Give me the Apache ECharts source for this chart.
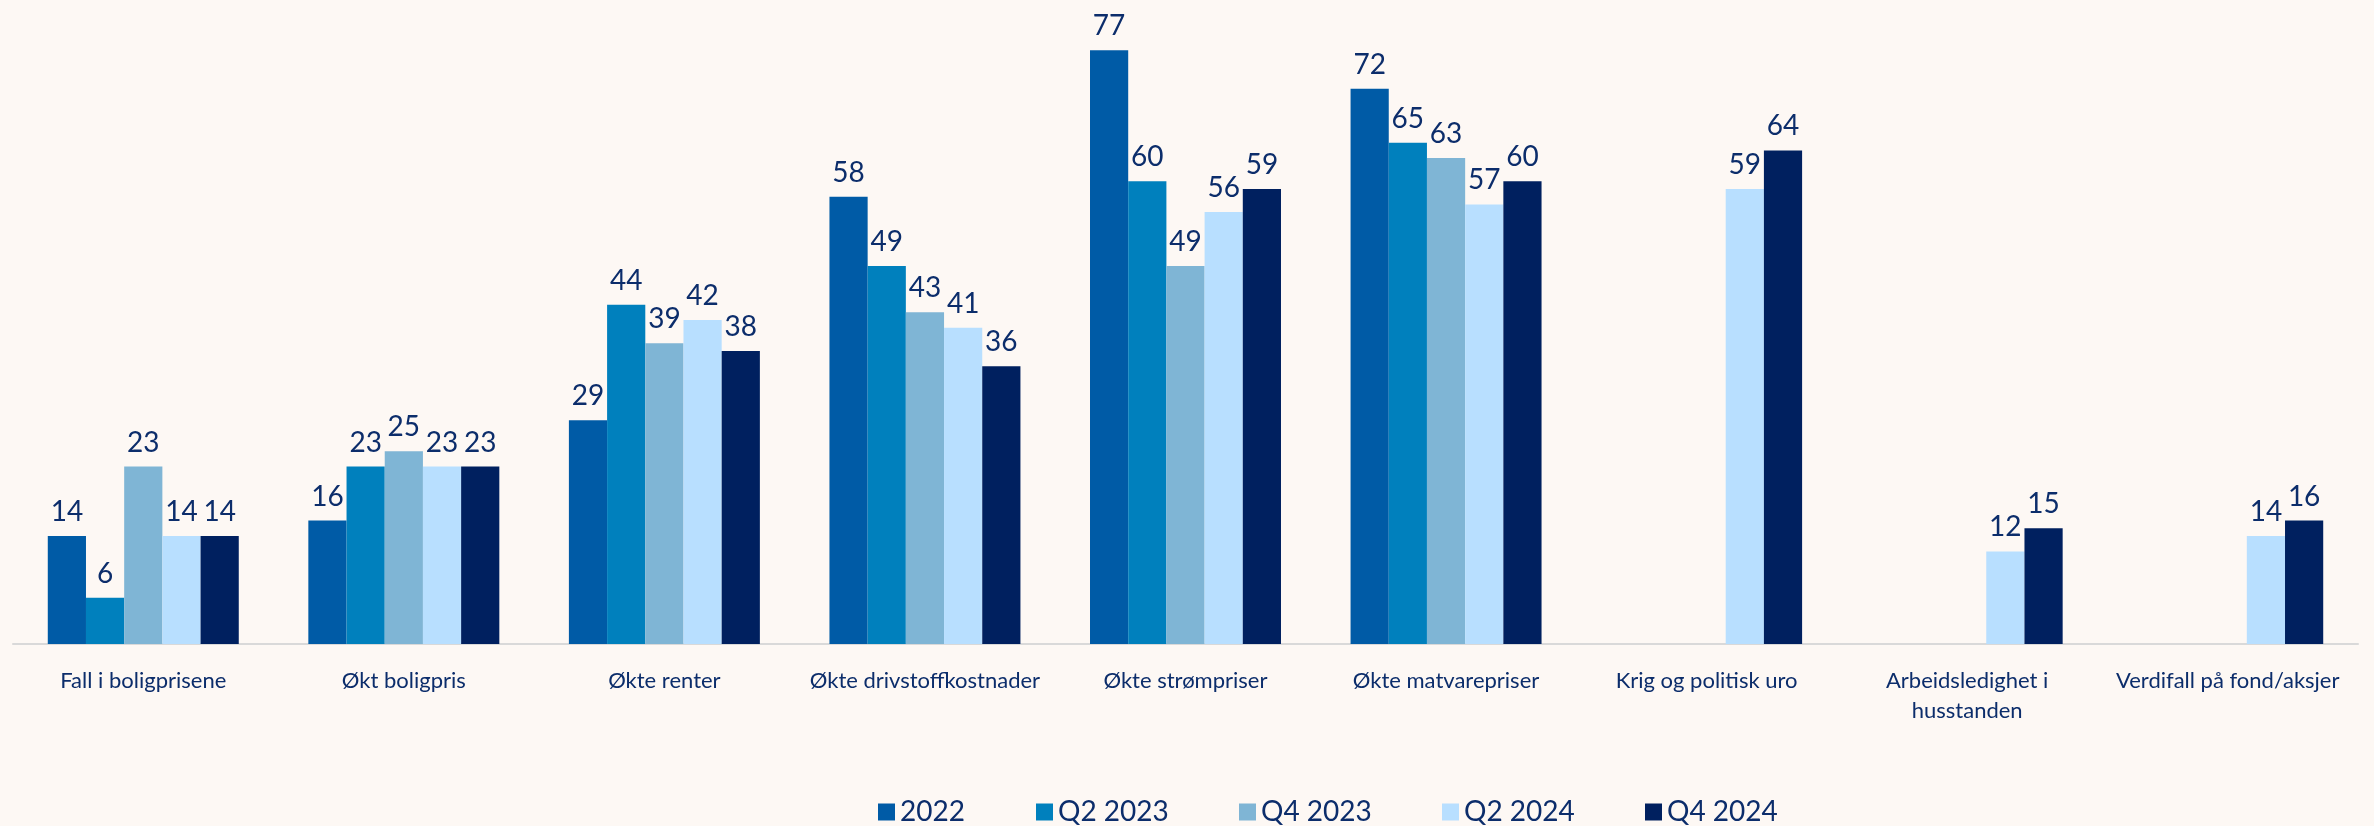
<!DOCTYPE html>
<html>
<head>
<meta charset="utf-8">
<script src="https://cdn.jsdelivr.net/npm/echarts@6/dist/echarts.min.js"></script>
<style>
  html, body { margin: 0; padding: 0; background: #fdf8f4; }
  #chart { width: 2374px; height: 826px; }
</style>
</head>
<body>
<div id="chart"></div>
<script>
// kategorier og verdier
var categories = [
  "Fall i boligprisene",
  "Økt boligpris",
  "Økte renter",
  "Økte drivstoffkostnader",
  "Økte strømpriser",
  "Økte matvarepriser",
  "Krig og politisk uro",
  "Arbeidsledighet i\nhusstanden",
  "Verdifall på fond/aksjer"
];
var seriesNames = ["2022", "Q2 2023", "Q4 2023", "Q2 2024", "Q4 2024"];
var v2022   = [14, 16, 29, 58, 77, 72, null, null, null];
var vQ22023 = [6, 23, 44, 49, 60, 65, null, null, null];
var vQ42023 = [23, 25, 39, 43, 49, 63, null, null, null];
var vQ22024 = [14, 23, 42, 41, 56, 57, 59, 12, 14];
var vQ42024 = [14, 23, 38, 36, 59, 60, 64, 15, 16];
var values = [v2022, vQ22023, vQ42023, vQ22024, vQ42024];
var colors = ["#005ba6", "#0080bd", "#7fb5d5", "#b8dfff", "#00205f"];

var textColor = "#0c2d6b";
var font = "Lato, 'Open Sans', sans-serif";

// ett legendelement per serie, plassert som i Excel
var legendLeft = [878, 1036, 1239, 1442, 1645];

var myChart = echarts.init(document.getElementById("chart"));

var option = {
  backgroundColor: "#fdf8f4",
  animation: false,
  legend: seriesNames.map(function (name, i) {
    return {
      left: legendLeft[i],
      top: 798,
      padding: 0,
      icon: "rect",
      itemWidth: 17,
      itemHeight: 17,
      itemGap: 10,
      textStyle: {
        color: textColor,
        fontSize: 28,
        fontFamily: font
      },
      data: [name]
    };
  }),
  grid: {
    left: 13,
    right: 16,
    top: 27,
    bottom: 182,
    containLabel: false
  },
  xAxis: {
    type: "category",
    data: categories,
    axisLine: { lineStyle: { color: "#d9d9d9", width: 2 } },
    axisTick: { show: false },
    axisLabel: {
      color: textColor,
      fontSize: 22,
      fontFamily: font,
      margin: 22,
      lineHeight: 30,
      interval: 0
    }
  },
  yAxis: {
    type: "value",
    min: 0,
    max: 80,
    show: false,
    splitLine: { show: false }
  },
  series: seriesNames.map(function (name, i) {
    return {
      name: name,
      type: "bar",
      data: values[i],
      barGap: "0%",
      barCategoryGap: "26.7%",
      itemStyle: { color: colors[i] },
      label: {
        show: true,
        position: "top",
        distance: 10,
        color: textColor,
        fontSize: 28,
        fontFamily: font
      }
    };
  })
};

myChart.setOption(option);
</script>
</body>
</html>
